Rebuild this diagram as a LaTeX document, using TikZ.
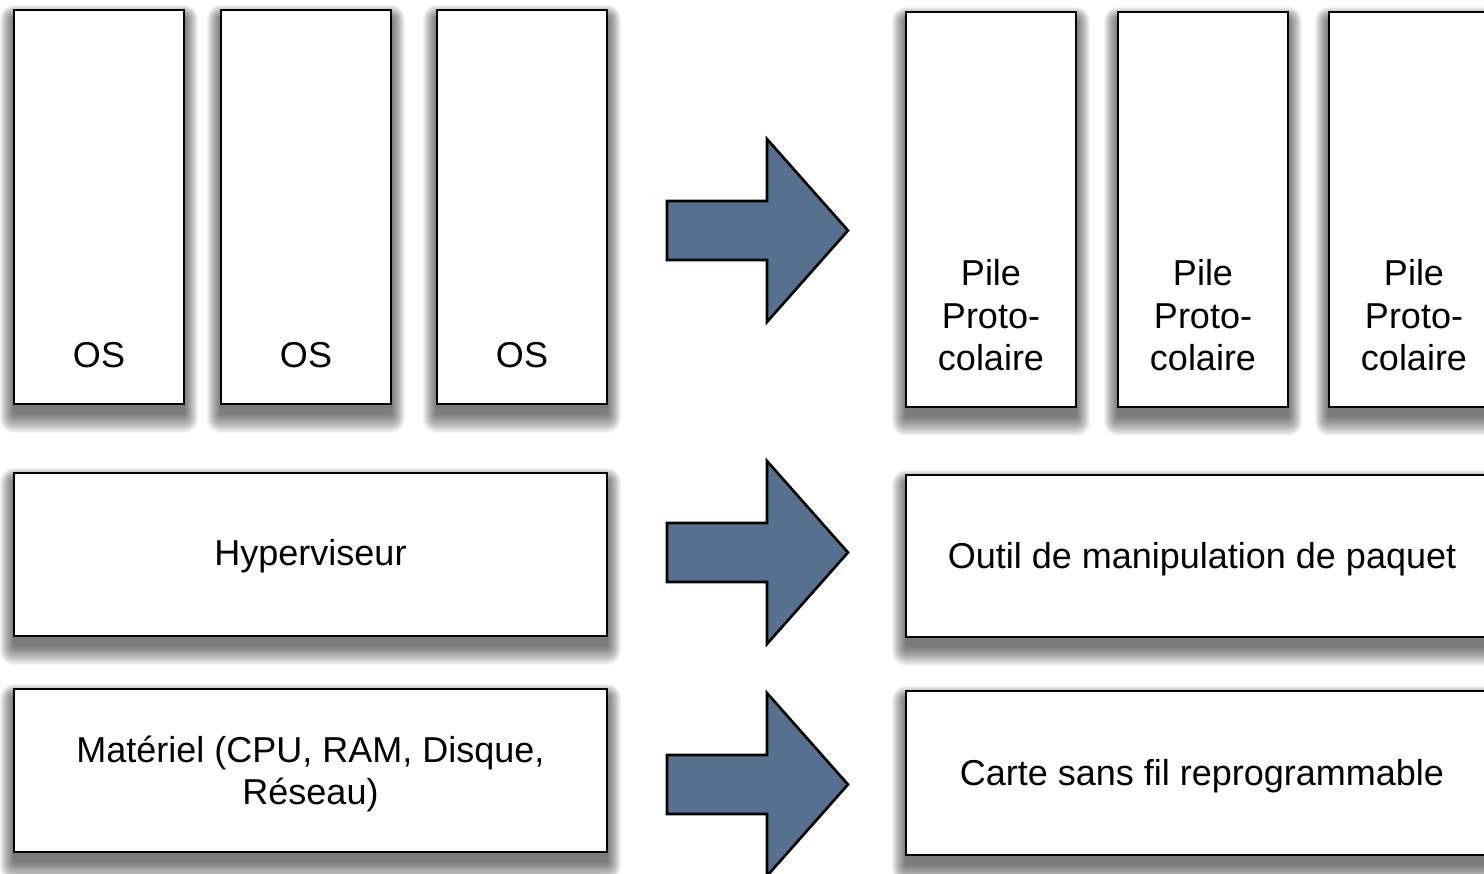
\documentclass[tikz,border=0pt]{standalone}
\usepackage{fontspec}
\setmainfont{Liberation Sans}
\usetikzlibrary{backgrounds}
\definecolor{arrowblue}{RGB}{88,112,143}
\begin{document}
\begin{tikzpicture}[x=1pt,y=-1pt,
  box/.style={draw=black, line width=2.6pt, fill=white, rectangle, inner sep=0pt, outer sep=0pt, anchor=north west},
  lbl/.style={font=\fontsize{36}{42.5}\selectfont, align=center, inner sep=0pt},
  blockarrow/.style={draw=black, line width=2.6pt, fill=arrowblue, line join=miter}]
\useasboundingbox (0,0) rectangle (1484,874);
\clip (0,0) rectangle (1484,874);
% left column
\node[box, minimum width=170pt, minimum height=394pt] (os1) at (14,10) {};
\node[box, minimum width=170pt, minimum height=394pt] (os2) at (221,10) {};
\node[box, minimum width=170pt, minimum height=394pt] (os3) at (437,10) {};
\node[box, minimum width=593pt, minimum height=163pt] (hyp) at (14,473) {};
\node[box, minimum width=593pt, minimum height=163pt] (mat) at (14,689) {};
% right column
\node[box, minimum width=170pt, minimum height=395pt] (pile1) at (906,12) {};
\node[box, minimum width=170pt, minimum height=395pt] (pile2) at (1118,12) {};
\node[box, minimum width=170pt, minimum height=395pt] (pile3) at (1329,12) {};
\node[box, minimum width=593pt, minimum height=162pt] (outil) at (906,475) {};
\node[box, minimum width=593pt, minimum height=164pt] (carte) at (906,691) {};
% shadows
\begin{scope}[on background layer]
\foreach \n in {os1,os2,os3,hyp,mat,pile1,pile2,pile3,outil,carte} {
  \foreach \e in {20,19,...,1} {
    \fill[black, opacity=0.034, rounded corners=0.7*\e pt]
      ([shift={(-0.7*\e,9-0.7*\e)}]\n.north west) rectangle ([shift={(0.7*\e,9+\e)}]\n.south east);
  }
}
\end{scope}
% labels
\node[lbl, anchor=base] (os1t) at (99,368) {OS};
\node[lbl, anchor=base] (os2t) at (306,368) {OS};
\node[lbl, anchor=base] (os3t) at (522,368) {OS};
\node[lbl] (hypt) at (310.5,556) {Hyperviseur};
\node[lbl] (matt) at (310.5,774) {Matériel (CPU, RAM, Disque,\\Réseau)};
\node[lbl] (pile1t) at (991,315.5) {Pile\\Proto-\\colaire};
\node[lbl] (pile2t) at (1203,315.5) {Pile\\Proto-\\colaire};
\node[lbl] (pile3t) at (1414,315.5) {Pile\\Proto-\\colaire};
\node[lbl] (outilt) at (1202,559) {Outil de manipulation de paquet};
\node[lbl] (cartet) at (1202,776) {Carte sans fil reprogrammable};
% block arrows
\draw[blockarrow] (667,201) -- (767,201) -- (767,139) -- (848,230.5) -- (767,322) -- (767,260) -- (667,260) -- cycle;
\draw[blockarrow] (667,523) -- (767,523) -- (767,461) -- (848,552.5) -- (767,644) -- (767,582) -- (667,582) -- cycle;
\draw[blockarrow] (667,755) -- (767,755) -- (767,693) -- (848,784.5) -- (767,876) -- (767,814) -- (667,814) -- cycle;
\end{tikzpicture}
\end{document}
